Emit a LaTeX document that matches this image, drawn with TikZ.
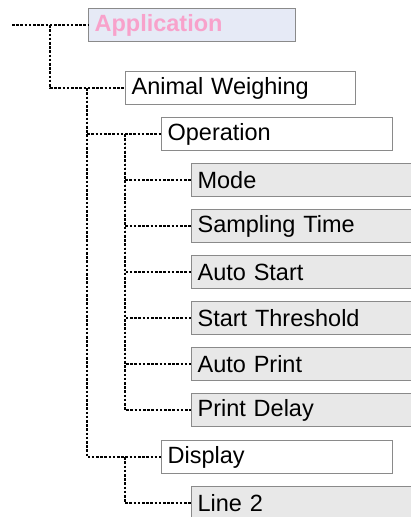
\documentclass[tikz,border=0pt]{standalone}
\usepackage{fontspec}
\setmainfont{Liberation Sans}
\definecolor{appfill}{HTML}{E6EAF6}
\definecolor{grayfill}{HTML}{E8E8E8}
\definecolor{boxborder}{HTML}{8A8A8A}
\definecolor{apppink}{HTML}{F8A2CB}
\tikzset{
  menubox/.style={draw=boxborder, line width=1.2pt, rectangle, anchor=north west,
    minimum height=33pt, inner xsep=6pt, inner ysep=0pt, align=left,
    font=\fontsize{23.5}{26}\selectfont},
  whitebox/.style={menubox, fill=white},
  graybox/.style={menubox, fill=grayfill},
  dotline/.style={line width=1.7pt, dash pattern=on 2.6pt off 1.6pt, black},
}
\begin{document}
\begin{tikzpicture}[x=1pt,y=-1pt]
\useasboundingbox (0,0) rectangle (411,517);
\clip (0,0) rectangle (411,517);
\node[menubox, fill=appfill, minimum width=207pt, text width=195pt, font=\fontsize{23.5}{26}\selectfont\bfseries, text=apppink] (app) at (88,8) {Application};
\node[whitebox, minimum width=230pt, text width=218pt] (aw) at (125,71) {Animal Weighing};
\node[whitebox, minimum width=231pt, text width=219pt] (op) at (161,117) {Operation};
\node[graybox, minimum width=235pt, text width=223pt] (mode) at (191,163) {Mode};
\node[graybox, minimum width=235pt, text width=223pt] (samp) at (191,209) {Sampling Time};
\node[graybox, minimum width=235pt, text width=223pt] (astart) at (191,255) {Auto Start};
\node[graybox, minimum width=235pt, text width=223pt] (thresh) at (191,301) {Start Threshold};
\node[graybox, minimum width=235pt, text width=223pt] (aprint) at (191,347) {Auto Print};
\node[graybox, minimum width=235pt, text width=223pt] (delay) at (191,393) {Print Delay};
\node[whitebox, minimum width=231pt, text width=219pt] (disp) at (161,440) {Display};
\node[graybox, minimum width=235pt, text width=223pt] (line2) at (191,486) {Line 2};
\coordinate (start) at (12,0 |- app.west);
\coordinate (j1) at (50,0 |- app.west);
\coordinate (j2) at (87,0 |- aw.west);
\coordinate (j3) at (125,0 |- op.west);
\coordinate (j4) at (125,0 |- disp.west);
\draw[dotline] (start) -- (app.west);
\draw[dotline] (j1) |- (aw.west);
\draw[dotline] (j2) |- (op.west);
\draw[dotline] (j2) |- (disp.west);
\foreach \n in {mode,samp,astart,thresh,aprint,delay}
  \draw[dotline] (j3) |- (\n.west);
\draw[dotline] (j4) |- (line2.west);
\end{tikzpicture}
\end{document}
